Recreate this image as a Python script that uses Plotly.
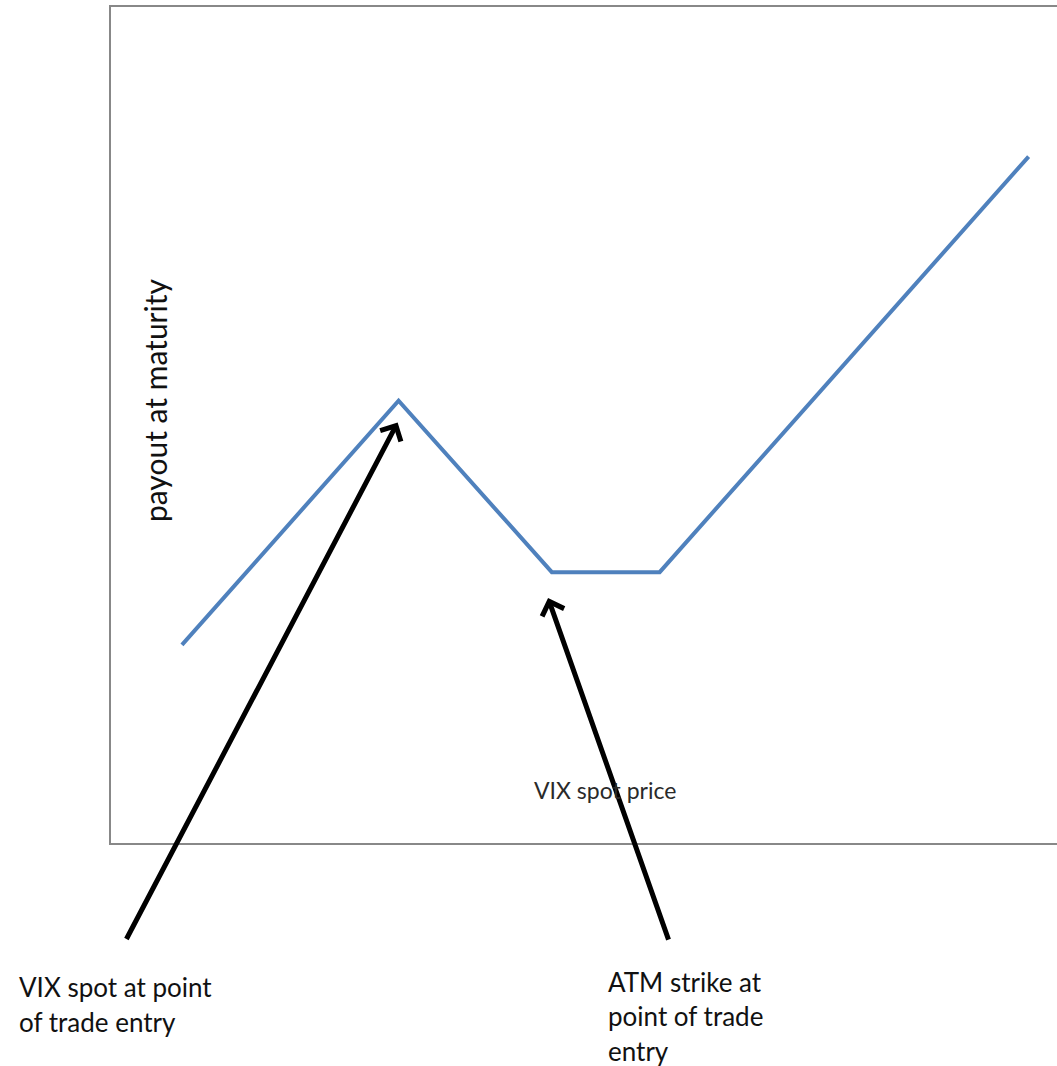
import plotly.graph_objects as go

# Data (abstract units: x = VIX spot, y = payout at maturity)
vix_spot = [7.5, 30.4, 46.6, 58.0, 97.0]
payout = [23.7, 52.9, 32.4, 32.4, 82.1]

x_label = "VIX spot price"
y_label = "payout at maturity"
note_left = ["VIX spot at point", "of trade entry"]
note_right = ["ATM strike at", "point of trade", "entry"]

W, H = 1057, 1066
L, T, B = 111, 7, 223
PW, PH = W - L, H - T - B

def px_x(p):
    return (p - L) / PW

def px_y(p):
    return (H - B - p) / PH

FONT = "Lato"
fig = go.Figure()
fig.add_trace(go.Scatter(x=vix_spot, y=payout, mode="lines",
                         line=dict(color="#4F81BD", width=4), hoverinfo="skip",
                         showlegend=False))

ann = []
# arrows
ann.append(dict(x=vix_spot[1] - 0.1, y=payout[1] - 2.6, xref="x", yref="y",
                ax=-272, ay=518, axref="pixel", ayref="pixel", showarrow=True,
                arrowhead=4, arrowsize=0.9, arrowwidth=5, arrowcolor="black", text=""))
ann.append(dict(x=vix_spot[2] - 0.4, y=payout[2] - 3.1, xref="x", yref="y",
                ax=121, ay=343, axref="pixel", ayref="pixel", showarrow=True,
                arrowhead=4, arrowsize=0.9, arrowwidth=5, arrowcolor="black", text=""))
# axis labels
ann.append(dict(x=px_x(605), y=px_y(790), xref="paper", yref="paper", text=x_label,
                showarrow=False, font=dict(family=FONT, size=23, color="#2a2a2a"),
                xanchor="center", yanchor="middle"))
ann.append(dict(x=px_x(155), y=px_y(401), xref="paper", yref="paper", text=y_label,
                showarrow=False, textangle=-90, font=dict(family=FONT, size=30, color="#111"),
                xanchor="center", yanchor="middle"))
for i, line in enumerate(note_left):
    ann.append(dict(x=px_x(17), y=px_y(987 + 35 * i), xref="paper", yref="paper", text=line,
                    showarrow=False, font=dict(family=FONT, size=26, color="#111"),
                    xanchor="left", yanchor="middle"))
for i, line in enumerate(note_right):
    ann.append(dict(x=px_x(606), y=px_y(982 + 34.5 * i), xref="paper", yref="paper", text=line,
                    showarrow=False, font=dict(family=FONT, size=26, color="#111"),
                    xanchor="left", yanchor="middle"))

fig.update_layout(
    width=W, height=H, autosize=False,
    margin=dict(l=L, r=0, t=T, b=B, pad=0),
    paper_bgcolor="white", plot_bgcolor="white",
    xaxis=dict(range=[0, 100], showgrid=False, zeroline=False, showticklabels=False,
               ticks="", showline=True, linecolor="#888", linewidth=2, mirror=True),
    yaxis=dict(range=[0, 100], showgrid=False, zeroline=False, showticklabels=False,
               ticks="", showline=True, linecolor="#888", linewidth=2, mirror=False),
    annotations=ann,
)
fig.write_html("out.html", config={"displayModeBar": False},
               post_script="document.body.style.margin='0';document.body.style.overflow='hidden';")
